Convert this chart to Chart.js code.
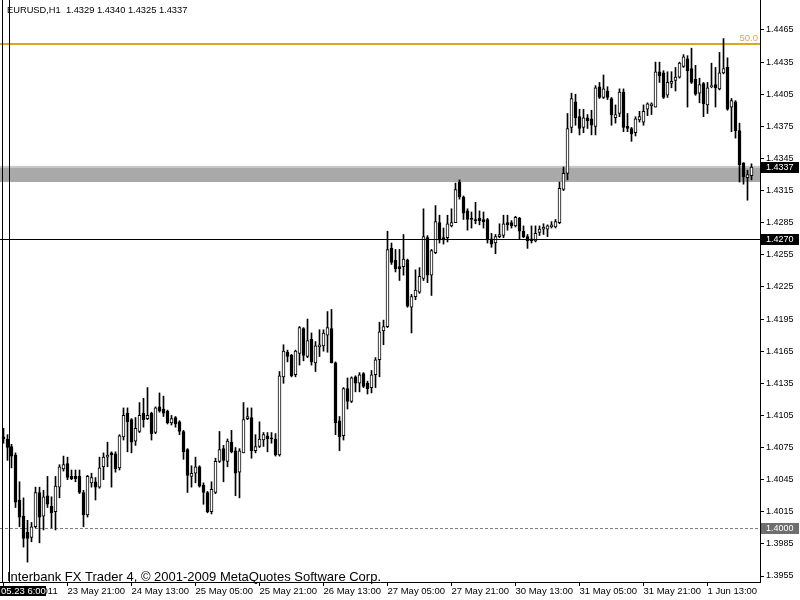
<!DOCTYPE html>
<html>
<head>
<meta charset="utf-8">
<script src="https://cdn.jsdelivr.net/npm/chart.js@4.4.1/dist/chart.umd.min.js"></script>
<style>
html,body{margin:0;padding:0;background:#ffffff;}
#wrap{width:800px;height:600px;position:relative;}
</style>
</head>
<body>
<div id="wrap"><canvas id="c" width="800" height="600"></canvas></div>
<script>
// ---- data (EURUSD H1) ----
const opens = [
1.4085,1.4083,1.4076,1.4068,1.4026,1.4011,1.3996,1.3991,1.4001,1.4033,
1.4011,1.4030,1.4020,1.4015,1.4038,1.4055,1.4060,1.4048,1.4048,1.4048,
1.4033,1.4012,1.4042,1.4043,1.4038,1.4057,1.4066,1.4070,1.4069,1.4056,
1.4085,1.4107,1.4101,1.4081,1.4090,1.4107,1.4102,1.4107,1.4089,1.4113,
1.4111,1.4109,1.4098,1.4103,1.4099,1.4090,1.4073,1.4048,1.4051,1.4057,
1.4040,1.4033,1.4015,1.4033,1.4062,1.4074,1.4062,1.4080,1.4072,1.4052,
1.4070,1.4102,1.4103,1.4072,1.4076,1.4082,1.4086,1.4084,1.4083,1.4068,
1.4141,1.4164,1.4161,1.4143,1.4163,1.4186,1.4160,1.4176,1.4154,1.4169,
1.4170,1.4180,1.4186,1.4154,1.4100,1.4086,1.4130,1.4118,1.4141,1.4135,
1.4144,1.4135,1.4131,1.4143,1.4157,1.4184,1.4188,1.4261,1.4250,1.4244,
1.4244,1.4250,1.4206,1.4216,1.4220,1.4233,1.4271,1.4236,1.4257,1.4285,
1.4271,1.4271,1.4282,1.4285,1.4323,1.4309,1.4296,1.4289,1.4288,1.4289,
1.4288,1.4288,1.4270,1.4266,1.4272,1.4273,1.4285,1.4285,1.4282,1.4289,
1.4277,1.4272,1.4270,1.4268,1.4276,1.4279,1.4279,1.4281,1.4281,1.4285,
1.4316,1.4331,1.4374,1.4398,1.4384,1.4374,1.4383,1.4382,1.4375,1.4412,
1.4402,1.4408,1.4401,1.4383,1.4387,1.4407,1.4375,1.4373,1.4369,1.4381,
1.4379,1.4391,1.4394,1.4393,1.4426,1.4425,1.4404,1.4415,1.4418,1.4421,
1.4431,1.4438,1.4429,1.4419,1.4406,1.4415,1.4395,1.4412,1.4414,1.4410,
1.4425,1.4430,1.4393,1.4398,1.4371,1.4341,1.4327,1.4329
];
const highs = [
1.4093,1.4087,1.4078,1.4070,1.4043,1.4028,1.4007,1.4005,1.4038,1.4038,
1.4035,1.4048,1.4029,1.4048,1.4059,1.4067,1.4066,1.4054,1.4054,1.4054,
1.4035,1.4049,1.4051,1.4047,1.4066,1.4070,1.4080,1.4071,1.4071,1.4087,
1.4112,1.4112,1.4102,1.4103,1.4117,1.4121,1.4131,1.4108,1.4113,1.4126,
1.4123,1.4110,1.4105,1.4104,1.4100,1.4091,1.4074,1.4058,1.4066,1.4058,
1.4042,1.4034,1.4043,1.4065,1.4090,1.4077,1.4083,1.4091,1.4075,1.4074,
1.4117,1.4112,1.4112,1.4087,1.4099,1.4089,1.4089,1.4089,1.4088,1.4146,
1.4171,1.4166,1.4162,1.4166,1.4188,1.4187,1.4195,1.4182,1.4174,1.4185,
1.4185,1.4202,1.4204,1.4155,1.4104,1.4131,1.4140,1.4141,1.4142,1.4145,
1.4145,1.4137,1.4147,1.4159,1.4192,1.4194,1.4277,1.4266,1.4260,1.4260,
1.4274,1.4251,1.4218,1.4241,1.4243,1.4298,1.4273,1.4260,1.4301,1.4292,
1.4280,1.4292,1.4298,1.4322,1.4325,1.4310,1.4298,1.4295,1.4304,1.4296,
1.4295,1.4289,1.4275,1.4274,1.4284,1.4292,1.4292,1.4287,1.4291,1.4290,
1.4282,1.4274,1.4282,1.4282,1.4282,1.4284,1.4283,1.4286,1.4288,1.4323,
1.4337,1.4387,1.4406,1.4405,1.4391,1.4391,1.4386,1.4390,1.4413,1.4416,
1.4423,1.4412,1.4402,1.4395,1.4410,1.4410,1.4387,1.4374,1.4384,1.4389,
1.4395,1.4397,1.4397,1.4435,1.4435,1.4427,1.4426,1.4426,1.4430,1.4435,
1.4442,1.4441,1.4448,1.4432,1.4420,1.4416,1.4416,1.4434,1.4430,1.4444,
1.4457,1.4439,1.4401,1.4399,1.4378,1.4341,1.4334,1.4340
];
const lows = [
1.4079,1.4063,1.4056,1.4019,1.4001,1.3982,1.3968,1.3987,1.4000,1.3986,
1.3998,1.4019,1.4000,1.3998,1.4028,1.4053,1.4045,1.4045,1.4043,1.4032,
1.4001,1.4010,1.4038,1.4026,1.4037,1.4045,1.4057,1.4038,1.4052,1.4054,
1.4082,1.4071,1.4070,1.4077,1.4089,1.4094,1.4101,1.4082,1.4088,1.4108,
1.4104,1.4097,1.4096,1.4094,1.4087,1.4064,1.4033,1.4038,1.4042,1.4038,
1.4022,1.4014,1.4013,1.4032,1.4061,1.4043,1.4057,1.4070,1.4030,1.4028,
1.4070,1.4101,1.4065,1.4070,1.4075,1.4076,1.4071,1.4079,1.4067,1.4067,
1.4135,1.4155,1.4141,1.4141,1.4152,1.4156,1.4159,1.4152,1.4146,1.4160,
1.4165,1.4164,1.4154,1.4087,1.4072,1.4082,1.4111,1.4117,1.4127,1.4127,
1.4131,1.4125,1.4126,1.4131,1.4141,1.4171,1.4187,1.4246,1.4239,1.4231,
1.4236,1.4206,1.4182,1.4213,1.4219,1.4231,1.4229,1.4217,1.4256,1.4266,
1.4265,1.4267,1.4281,1.4285,1.4307,1.4288,1.4278,1.4280,1.4284,1.4283,
1.4280,1.4266,1.4262,1.4256,1.4271,1.4271,1.4278,1.4280,1.4281,1.4270,
1.4271,1.4261,1.4266,1.4267,1.4273,1.4274,1.4272,1.4280,1.4280,1.4284,
1.4315,1.4325,1.4369,1.4376,1.4367,1.4369,1.4373,1.4367,1.4367,1.4401,
1.4401,1.4400,1.4376,1.4378,1.4384,1.4370,1.4370,1.4361,1.4366,1.4379,
1.4376,1.4385,1.4386,1.4393,1.4416,1.4401,1.4402,1.4411,1.4408,1.4420,
1.4430,1.4393,1.4415,1.4404,1.4397,1.4384,1.4387,1.4411,1.4393,1.4409,
1.4424,1.4390,1.4370,1.4364,1.4323,1.4321,1.4306,1.4325
];
const closes = [
1.4083,1.4075,1.4067,1.4024,1.4010,1.3990,1.3990,1.4001,1.4033,1.4010,
1.4029,1.4022,1.4014,1.4039,1.4057,1.4059,1.4047,1.4046,1.4046,1.4033,
1.4012,1.4048,1.4047,1.4038,1.4056,1.4066,1.4068,1.4068,1.4055,1.4086,
1.4105,1.4099,1.4080,1.4093,1.4105,1.4101,1.4105,1.4088,1.4112,1.4109,
1.4107,1.4098,1.4102,1.4097,1.4090,1.4071,1.4049,1.4051,1.4057,1.4039,
1.4033,1.4015,1.4036,1.4062,1.4073,1.4063,1.4081,1.4071,1.4051,1.4072,
1.4101,1.4104,1.4072,1.4076,1.4083,1.4087,1.4083,1.4083,1.4068,1.4142,
1.4165,1.4160,1.4142,1.4165,1.4187,1.4161,1.4175,1.4155,1.4170,1.4171,
1.4182,1.4187,1.4154,1.4098,1.4085,1.4130,1.4118,1.4140,1.4135,1.4143,
1.4132,1.4130,1.4143,1.4157,1.4183,1.4188,1.4260,1.4248,1.4242,1.4242,
1.4251,1.4207,1.4216,1.4222,1.4235,1.4272,1.4236,1.4259,1.4286,1.4269,
1.4269,1.4284,1.4285,1.4316,1.4309,1.4294,1.4288,1.4288,1.4287,1.4287,
1.4286,1.4269,1.4265,1.4272,1.4274,1.4284,1.4283,1.4282,1.4290,1.4277,
1.4272,1.4268,1.4268,1.4275,1.4279,1.4281,1.4282,1.4283,1.4286,1.4317,
1.4331,1.4373,1.4401,1.4383,1.4373,1.4383,1.4380,1.4376,1.4411,1.4402,
1.4410,1.4402,1.4386,1.4386,1.4407,1.4374,1.4373,1.4368,1.4382,1.4384,
1.4389,1.4396,1.4396,1.4426,1.4422,1.4402,1.4416,1.4417,1.4421,1.4434,
1.4440,1.4427,1.4416,1.4405,1.4414,1.4396,1.4411,1.4413,1.4411,1.4425,
1.4429,1.4391,1.4399,1.4371,1.4339,1.4328,1.4330,1.4337
];

// time axis: bar index of each label and its text
const timeTickBars   = [0, 16, 32, 48, 64, 80, 96, 112, 128, 144, 160, 176];
const timeTickLabels = ["23 May 2011","23 May 21:00","24 May 13:00","25 May 05:00","25 May 21:00",
                        "26 May 13:00","27 May 05:00","27 May 21:00","30 May 13:00","31 May 05:00",
                        "31 May 21:00","1 Jun 13:00"];
// price axis ticks
const priceTicks = [1.3955,1.3985,1.4015,1.4045,1.4075,1.4105,1.4135,1.4165,1.4195,1.4225,
                    1.4255,1.4285,1.4315,1.4345,1.4375,1.4405,1.4435,1.4465];

const titleText  = "EURUSD,H1  1.4329 1.4340 1.4325 1.4337";
const footerText = "Interbank FX Trader 4, \u00A9 2001-2009 MetaQuotes Software Corp.";
const fiboLevel = 1.4452, fiboText = "50.0";
const zoneTop = 1.4338, zoneBottom = 1.4323;
const crossPrice = 1.4270, crossBar = 1.5, crossTimeText = "05.23 6:00";
const leftMarkBar = -0.25;
const roundLevel = 1.4000;
const lastPrice = 1.4337;
const priceMin = 1.39494, priceMax = 1.44930;
const barMin = -0.875, barMax = 189.125;

// ---- build datasets ----
const idx = opens.map((_, i) => i);
const wickData = idx.map(i => ({x: i, y: [lows[i], highs[i]]}));
const bodyData = idx.map(i => ({x: i, y: [opens[i], closes[i]]}));
const bodyFill = idx.map(i => closes[i] >= opens[i] ? '#ffffff' : '#000000');

const FONT = "'Liberation Sans', Arial, sans-serif";

const overlay = {
  id: 'overlay',
  beforeDatasetsDraw(chart) {
    const {ctx, chartArea: a, scales: {x, y}} = chart;
    ctx.save();
    const zt = y.getPixelForValue(zoneTop), zb = y.getPixelForValue(zoneBottom);
    ctx.fillStyle = '#a9a9a9';
    ctx.fillRect(a.left, zt, a.right - a.left, zb - zt);
    ctx.fillStyle = '#c8c8c8';
    ctx.fillRect(a.left, zt, a.right - a.left, 2);
    const ry = Math.round(y.getPixelForValue(roundLevel)) + 0.5;
    ctx.strokeStyle = '#808080';
    ctx.lineWidth = 1;
    ctx.setLineDash([3, 2]);
    ctx.beginPath(); ctx.moveTo(a.left, ry); ctx.lineTo(a.right, ry); ctx.stroke();
    ctx.setLineDash([]);
    const fy = Math.round(y.getPixelForValue(fiboLevel));
    ctx.strokeStyle = '#daa520';
    ctx.lineWidth = 2;
    ctx.beginPath(); ctx.moveTo(a.left, fy); ctx.lineTo(a.right, fy); ctx.stroke();
    ctx.restore();
  },
  afterDatasetsDraw(chart) {
    const {ctx, chartArea: a, scales: {x, y}} = chart;
    ctx.save();
    ctx.strokeStyle = '#000';
    ctx.lineWidth = 1;
    const cy = Math.round(y.getPixelForValue(crossPrice)) + 0.5;
    ctx.beginPath(); ctx.moveTo(a.left, cy); ctx.lineTo(a.right, cy); ctx.stroke();
    const cx = Math.floor(x.getPixelForValue(crossBar)) + 0.5;
    ctx.beginPath(); ctx.moveTo(cx, a.top); ctx.lineTo(cx, a.bottom); ctx.stroke();
    const lx = Math.floor(x.getPixelForValue(leftMarkBar)) + 0.5;
    ctx.beginPath(); ctx.moveTo(lx, a.top); ctx.lineTo(lx, a.bottom); ctx.stroke();
    ctx.restore();
  },
  afterDraw(chart) {
    const {ctx, chartArea: a, scales: {x, y}} = chart;
    ctx.save();
    ctx.fillStyle = '#000';
    ctx.textBaseline = 'middle';
    ctx.textAlign = 'left';
    ctx.font = '9.3px ' + FONT;
    ctx.fillText(titleText, 7, 10.5);
    ctx.font = '13px ' + FONT;
    ctx.textBaseline = 'alphabetic';
    ctx.fillText(footerText, 7, 580.5);
    ctx.fillStyle = '#e8a33a';
    ctx.font = '9.5px ' + FONT;
    ctx.textAlign = 'right';
    ctx.fillText(fiboText, a.right - 2, y.getPixelForValue(fiboLevel) - 3);
    const boxes = [[lastPrice, '#000000'], [crossPrice, '#000000'], [roundLevel, '#6e6e6e']];
    ctx.textAlign = 'left';
    ctx.textBaseline = 'middle';
    ctx.font = '9px ' + FONT;
    boxes.forEach(([p, col]) => {
      const py = y.getPixelForValue(p);
      ctx.fillStyle = col;
      ctx.fillRect(a.right + 1, Math.round(py) - 5, 38, 11);
      ctx.fillStyle = '#ffffff';
      ctx.fillText(p.toFixed(4), a.right + 6, py + 0.5);
    });
    ctx.fillStyle = '#000';
    ctx.fillRect(0, a.bottom + 4, 46, 10);
    ctx.fillStyle = '#fff';
    ctx.font = '9.5px ' + FONT;
    ctx.fillText(crossTimeText, 1, a.bottom + 9.5);
    ctx.restore();
  }
};

Chart.defaults.color = '#000';
Chart.defaults.font.family = FONT;

new Chart(document.getElementById('c'), {
  type: 'bar',
  data: {
    datasets: [
      {label: 'range', data: wickData, backgroundColor: '#000', borderWidth: 0,
       barThickness: 1, grouped: false, order: 2},
      {label: 'body', data: bodyData, backgroundColor: bodyFill, borderColor: '#000',
       borderWidth: 1, borderSkipped: false, barThickness: 3, minBarLength: 1,
       grouped: false, order: 1}
    ]
  },
  options: {
    responsive: false,
    animation: false,
    layout: {padding: 0},
    plugins: {legend: {display: false}, tooltip: {enabled: false}},
    scales: {
      x: {
        type: 'linear', min: barMin, max: barMax, offset: false,
        grid: {display: true, offset: false, drawOnChartArea: false, drawTicks: true, tickLength: 4, color: '#000'},
        border: {display: true, color: '#000', width: 1},
        ticks: {
          autoSkip: false, maxRotation: 0, minRotation: 0, align: 'start', padding: 0,
          font: {size: 9.5, family: FONT}, color: '#000',
          callback: (v) => { const k = timeTickBars.indexOf(v); return k >= 0 ? timeTickLabels[k] : ''; }
        },
        afterBuildTicks: (s) => { s.ticks = timeTickBars.map(v => ({value: v})); },
        afterFit: (s) => { s.height = 18; s.paddingLeft = 0; s.paddingRight = 0; }
      },
      y: {
        type: 'linear', position: 'right', min: priceMin, max: priceMax, beginAtZero: false,
        grid: {display: true, drawOnChartArea: false, drawTicks: true, tickLength: 4, color: '#000'},
        border: {display: true, color: '#000', width: 1},
        ticks: {
          autoSkip: false, padding: 2, font: {size: 9, family: FONT}, color: '#000',
          callback: (v) => Number(v).toFixed(4)
        },
        afterBuildTicks: (s) => { s.ticks = priceTicks.map(v => ({value: v})); },
        afterFit: (s) => { s.width = 40; s.paddingTop = 0; s.paddingBottom = 0; }
      }
    }
  },
  plugins: [overlay]
});
</script>
</body>
</html>
